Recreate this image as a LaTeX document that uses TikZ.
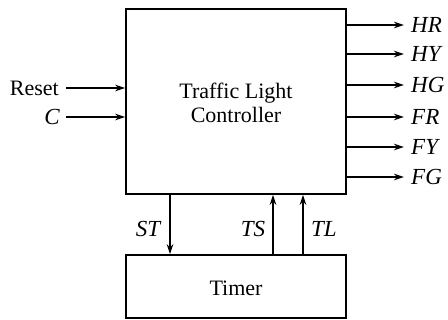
\documentclass[tikz,border=0pt]{standalone}
\usepackage{fontspec}
\setmainfont{Liberation Serif}
\usetikzlibrary{arrows.meta}
\begin{document}
\begin{tikzpicture}[x=1pt,y=-1pt,
  every node/.style={font=\fontsize{22}{26}\selectfont},
  blk/.style={draw,line width=1.5pt,inner sep=0pt},
  sig/.style={font=\fontsize{23}{26}\selectfont\itshape,inner sep=0pt,text height=15pt,text depth=0pt},
  wire/.style={line width=1.3pt,-{Stealth[length=10pt,width=6.5pt]}}]
\useasboundingbox (0,0) rectangle (448,320);
\node[blk,minimum width=220pt,minimum height=185pt] (ctl) at (236,101.5) {};
\node[align=center] (ctltxt) at (236,103) {Traffic Light\\[-2pt]Controller};
\node[blk,minimum width=220pt,minimum height=63pt] (tmr) at (236,286.5) {};
\node (tmrtxt) at (236,288) {Timer};
% outputs
\foreach \n/\y in {HR/25,HY/54,HG/85,FR/117,FY/147,FG/177}{
  \node[sig,anchor=west,inner xsep=7pt] (\n) at (404,\y) {\n};
  \draw[wire] (ctl.east |- \n.west) -- (\n.west);
}
% inputs
\node[sig,font=\fontsize{22}{26}\selectfont,anchor=east,inner xsep=7pt] (rst) at (66,88) {Reset};
\node[sig,anchor=east,inner xsep=6pt] (cin) at (66,117) {C};
\draw[wire] (rst.east) -- (ctl.west |- rst.east);
\draw[wire] (cin.east) -- (ctl.west |- cin.east);
% timer signals
\coordinate (stx) at (170,0);
\coordinate (tsx) at (273,0);
\coordinate (tlx) at (303,0);
\draw[wire] (ctl.south -| stx) -- (tmr.north -| stx);
\draw[wire] (tmr.north -| tsx) -- (ctl.south -| tsx);
\draw[wire] (tmr.north -| tlx) -- (ctl.south -| tlx);
\node[sig] (st) at (148,229) {ST};
\node[sig] (ts) at (253,229) {TS};
\node[sig] (tl) at (324,229) {TL};
\end{tikzpicture}
\end{document}
